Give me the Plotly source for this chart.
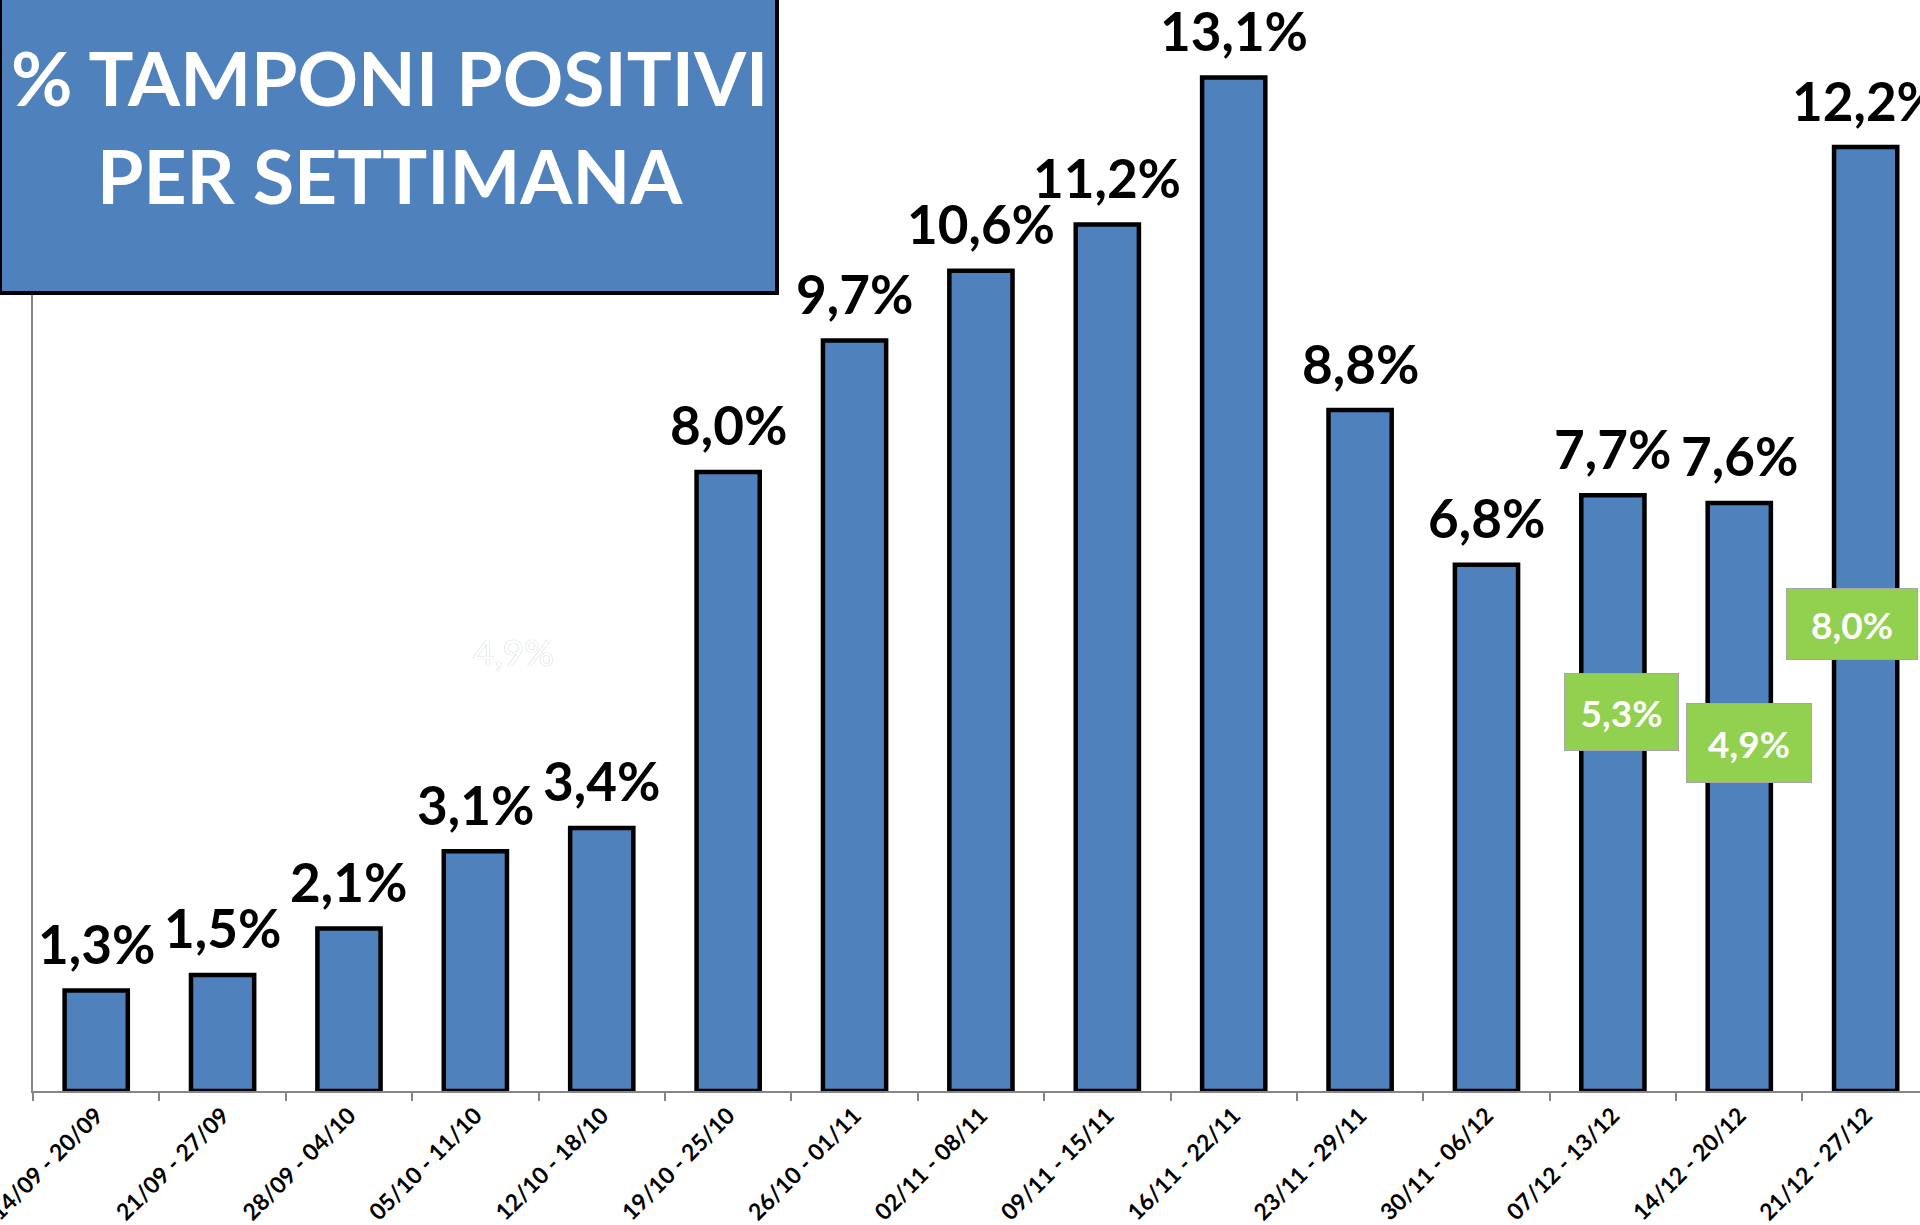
import plotly.graph_objects as go

# weekly share of positive swabs (%)
weeks = [
    "14/09 - 20/09", "21/09 - 27/09", "28/09 - 04/10", "05/10 - 11/10",
    "12/10 - 18/10", "19/10 - 25/10", "26/10 - 01/11", "02/11 - 08/11",
    "09/11 - 15/11", "16/11 - 22/11", "23/11 - 29/11", "30/11 - 06/12",
    "07/12 - 13/12", "14/12 - 20/12", "21/12 - 27/12",
]
pct_positive = [1.3, 1.5, 2.1, 3.1, 3.4, 8.0, 9.7, 10.6, 11.2, 13.1, 8.8, 6.8, 7.7, 7.6, 12.2]

# green call-outs on the last weeks
green_weeks = ["07/12 - 13/12", "14/12 - 20/12", "21/12 - 27/12"]
green_values = [5.3, 4.9, 8.0]

# faint leftover label
ghost_value = 4.9

BLUE = "#4F81BD"
GREEN = "#92D050"
FONT = "Lato"
W, H = 1920, 1225
ML, MB = 33, 134
PW, PH = W - ML, H - MB


def fmt(v):
    return f"{v:.1f}".replace(".", ",") + "%"


fig = go.Figure()
fig.add_trace(go.Bar(
    x=weeks, y=pct_positive,
    marker=dict(color=BLUE, line=dict(color="black", width=4.5)),
    hoverinfo="skip",
))

annotations = []
# black value labels above bars
for w, v in zip(weeks, pct_positive):
    annotations.append(dict(
        x=w, y=v, xref="x", yref="y", text=fmt(v), showarrow=False,
        yanchor="middle", yshift=47,
        font=dict(family=FONT, size=53, color="black", weight="bold"),
    ))

# green boxes (placed slightly off the bars, like the original)
green_pos = [(0.07, 4.9, 113, 76), (0.08, 4.5, 124, 78), (-0.11, 6.03, 130, 70)]
for w, v, (dx, yy, bw, bh) in zip(green_weeks, green_values, green_pos):
    annotations.append(dict(
        x=weeks.index(w) + dx, y=yy, xref="x", yref="y", text=fmt(v),
        showarrow=False, xanchor="center", yanchor="middle",
        width=bw, height=bh, bgcolor=GREEN, bordercolor="#a6a6a6",
        borderwidth=1, borderpad=0,
        font=dict(family=FONT, size=37, color="white", weight="bold"),
    ))

annotations.append(dict(
    x=3.3, y=5.68, xref="x", yref="y", text=fmt(ghost_value), showarrow=False,
    font=dict(family=FONT, size=37, color="white", shadow="0 0 1px #b0b0b0"),
))

# title box text
annotations.append(dict(
    x=(389 - ML) / PW, y=1 - 126 / PH, xref="paper", yref="paper",
    xanchor="center", yanchor="middle", showarrow=False,
    text="% TAMPONI POSITIVI<br>PER SETTIMANA", align="center",
    font=dict(family=FONT, size=75, color="white", weight="bold"),
))

fig.add_shape(
    type="rect", xref="paper", yref="paper",
    x0=-ML / PW, x1=(777 - ML) / PW, y0=1 - 293 / PH, y1=1 + 4 / PH,
    fillcolor=BLUE, line=dict(color="black", width=4), layer="above",
)

fig.update_layout(
    width=W, height=H,
    margin=dict(l=ML, r=0, t=0, b=MB, autoexpand=False),
    paper_bgcolor="white", plot_bgcolor="white",
    showlegend=False, bargap=0.5,
    annotations=annotations,
    font=dict(family=FONT),
)
fig.update_xaxes(
    type="category", range=[-0.5, 14.43], automargin=False,
    showline=True, linecolor="#868686", linewidth=2,
    ticks="outside", tickson="boundaries", ticklen=8, tickcolor="#868686", tickwidth=2,
    tickangle=-45, tickfont=dict(family=FONT, size=23, color="black", weight="bold"),
    showgrid=False,
)
fig.update_yaxes(
    range=[0, 14.1], showline=True, linecolor="#868686", linewidth=2, automargin=False,
    showticklabels=False, showgrid=False, zeroline=False, ticks="",
)

fig.write_html("out.html", config={"displayModeBar": False},
               post_script="document.body.style.margin='0px';")
